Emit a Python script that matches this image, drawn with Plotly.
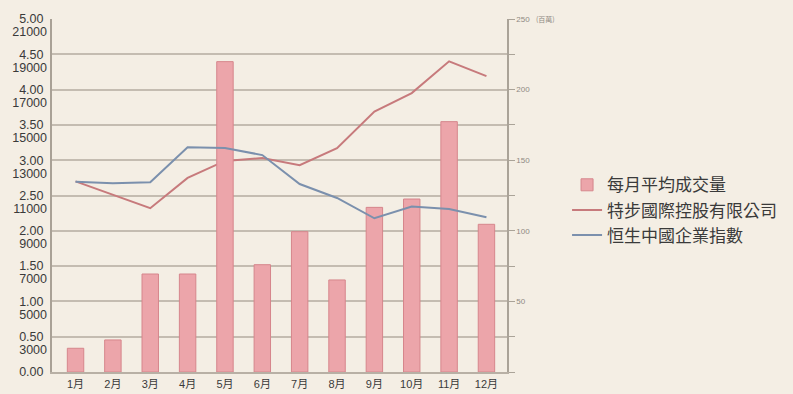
import plotly.graph_objects as go

months = ["1月", "2月", "3月", "4月", "5月", "6月", "7月", "8月", "9月", "10月", "11月", "12月"]
volume_m = [16.8, 22.7, 69.4, 69.4, 219.8, 76.0, 99.4, 65.2, 116.6, 122.5, 177.3, 104.6]
xtep_price = [2.70, 2.51, 2.32, 2.75, 2.99, 3.03, 2.93, 3.17, 3.69, 3.95, 4.40, 4.19]
hscei = [11780, 11690, 11750, 13730, 13690, 13290, 11650, 10860, 9710, 10370, 10235, 9765]

price_ticks = [0.0, 0.5, 1.0, 1.5, 2.0, 2.5, 3.0, 3.5, 4.0, 4.5, 5.0]
index_ticks = [3000, 5000, 7000, 9000, 11000, 13000, 15000, 17000, 19000, 21000]
vol_ticks = [0, 25, 50, 75, 100, 125, 150, 175, 200, 225, 250]
vol_labels = ["", "", "50", "", "100", "", "150", "", "200", "", "250"]

bg = "#f4eee4"
grid = "#c4bcb1"
label_color = "#3a3a3a"

fig = go.Figure()
fig.add_trace(go.Bar(
    x=months, y=volume_m, name="每月平均成交量", yaxis="y2",
    width=0.44,
    marker=dict(color="#eca5aa", line=dict(color="#d6868c", width=1)),
))
fig.add_trace(go.Scatter(
    x=months, y=xtep_price, name="特步國際控股有限公司", yaxis="y",
    mode="lines", line=dict(color="#c77a7c", width=2),
))
fig.add_trace(go.Scatter(
    x=months, y=hscei, name="恒生中國企業指數", yaxis="y3",
    mode="lines", line=dict(color="#7b90ad", width=2),
))

font_family = "Liberation Sans, Arial, Noto Sans CJK TC, sans-serif"

fig.update_layout(
    width=793, height=394,
    margin=dict(l=52, r=286, t=19, b=22, autoexpand=False),
    paper_bgcolor=bg, plot_bgcolor=bg,
    font=dict(family=font_family, color=label_color, size=13),
    bargap=0.5,
    xaxis=dict(
        type="category", range=[-0.63, 11.55], automargin=False,
        showgrid=False, showline=True, linecolor="#b8b0a5", linewidth=1.5,
        tickfont=dict(size=11, color=label_color), ticks="",
        ticklabelstandoff=1,
    ),
    yaxis=dict(
        range=[0, 5], tickvals=price_ticks, automargin=False,
        ticktext=[f"{v:.2f}" for v in price_ticks],
        showgrid=True, gridcolor=grid, gridwidth=1.6,
        showline=True, linecolor="#a9a196", linewidth=2,
        zeroline=False, ticks="", tickfont=dict(size=12.5, color=label_color),
        ticklabelstandoff=4,
    ),
    yaxis3=dict(
        range=[1000, 21000], tickvals=index_ticks, automargin=False,
        ticktext=[str(v) for v in index_ticks],
        overlaying="y", side="left", showgrid=False, showline=False,
        zeroline=False, ticks="", ticklabelshift=13, ticklabelstandoff=4,
        tickfont=dict(size=12.5, color=label_color),
    ),
    yaxis2=dict(
        range=[0, 250], tickvals=vol_ticks, ticktext=vol_labels, automargin=False,
        overlaying="y", side="right", showgrid=False,
        showline=True, linecolor="#aaa398", linewidth=1.5,
        ticks="outside", ticklen=6, tickcolor="#aaa398",
        zeroline=False, tickfont=dict(size=8, color="#8f8a83"),
    ),
    legend=dict(
        x=1.132, y=0.58, xanchor="left", yanchor="top",
        bgcolor="rgba(0,0,0,0)", font=dict(size=17, color=label_color,
                                           family="Noto Sans CJK TC, sans-serif"),
        tracegroupgap=0, itemwidth=30,
    ),
    showlegend=True,
    annotations=[dict(
        text="(百萬)", xref="paper", yref="paper", x=1.085, y=1.0,
        xanchor="center", yanchor="middle", showarrow=False,
        font=dict(size=7, color="#8f8a83", family="Noto Sans CJK TC, sans-serif"),
    )],
)

fig.write_html("out.html")
